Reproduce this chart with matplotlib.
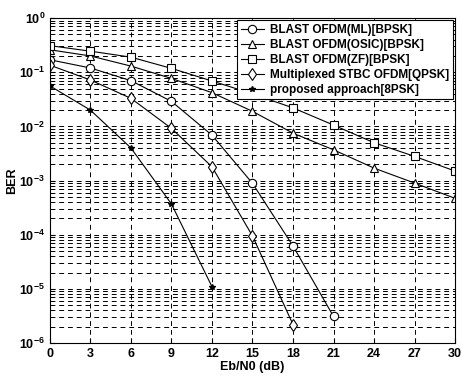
import numpy as np
import matplotlib.pyplot as plt

plt.rcParams['font.family'] = ['Liberation Sans', 'DejaVu Sans']

# Eb/N0 (dB)
snr = [0, 3, 6, 9, 12, 15, 18, 21, 24, 27, 30]

ber_ml = [0.17, 0.12, 0.07, 0.029, 0.0069, 8.9e-4, 6.2e-5, 3.1e-6]
ber_osic = [0.26, 0.20, 0.13, 0.077, 0.042, 0.019, 0.0075, 0.0037, 0.0017, 9e-4, 4.7e-4]
ber_zf = [0.31, 0.245, 0.19, 0.118, 0.069, 0.04, 0.022, 0.0106, 0.005, 0.0028, 0.0015]
ber_stbc = [0.135, 0.072, 0.033, 0.0092, 0.0018, 9.5e-5, 2.2e-6]
ber_prop = [0.056, 0.02, 0.004, 3.7e-4, 1.1e-5]

labels = ['BLAST OFDM(ML)[BPSK]', 'BLAST OFDM(OSIC)[BPSK]', 'BLAST OFDM(ZF)[BPSK]',
          'Multiplexed STBC OFDM[QPSK]', 'proposed approach[8PSK]']

fig = plt.figure(figsize=(4.62, 3.77), dpi=100)
ax = fig.add_axes([0.108, 0.09, 0.877, 0.862])

kw = dict(color='black', linewidth=0.8, markerfacecolor='white', markeredgecolor='black',
          markeredgewidth=0.8)
ax.semilogy(snr[:len(ber_ml)], ber_ml, marker='o', markersize=6, label=labels[0], **kw)
ax.semilogy(snr[:len(ber_osic)], ber_osic, marker='^', markersize=6, label=labels[1], **kw)
ax.semilogy(snr[:len(ber_zf)], ber_zf, marker='s', markersize=6, label=labels[2], **kw)
ax.semilogy(snr[:len(ber_stbc)], ber_stbc, marker='d', markersize=6, label=labels[3], **kw)
ax.semilogy(snr[:len(ber_prop)], ber_prop, marker='*', markersize=4, color='black',
            linewidth=0.8, label=labels[4])

ax.set_xlim(0, 30)
ax.set_ylim(1e-6, 1)
ax.set_xticks(snr)
ax.set_yticks([10.0 ** k for k in range(-6, 1)])

ax.grid(True, which='major', color='black', linestyle=(0, (5, 4)), linewidth=0.7)
ax.grid(True, which='minor', axis='y', color='black', linestyle=(0, (5, 4)), linewidth=0.7)
ax.tick_params(which='both', direction='in', labelsize=9)
for lbl in ax.get_xticklabels() + ax.get_yticklabels():
    lbl.set_fontweight('bold')

ax.set_xlabel('Eb/N0 (dB)', fontsize=9, fontweight='bold', labelpad=1)
ax.set_ylabel('BER', fontsize=9, fontweight='bold', labelpad=1)

leg = ax.legend(loc='upper right', fontsize=8.5, frameon=True, fancybox=False,
                edgecolor='black', framealpha=1, borderaxespad=0.2, handlelength=2,
                labelspacing=0.25, borderpad=0.3, handletextpad=0.5)
leg.get_frame().set_linewidth(0.8)
for t in leg.get_texts():
    t.set_fontweight('bold')

fig.savefig('out.png', dpi=100)
